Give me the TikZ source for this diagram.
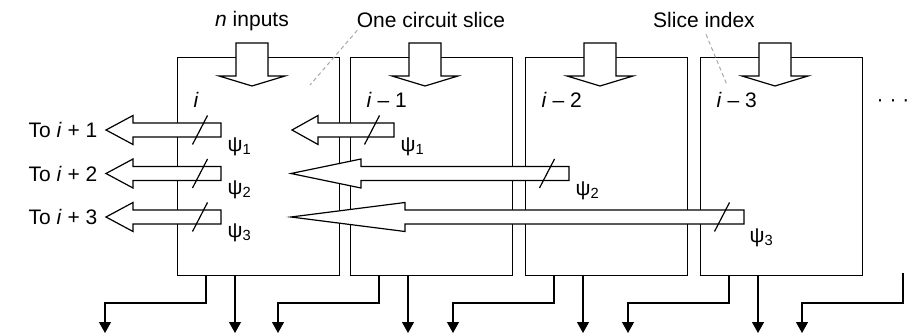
\documentclass[tikz,border=0pt]{standalone}
\usepackage{fontspec}
\setmainfont{Liberation Sans}
\usepackage{tikz}
\usetikzlibrary{arrows.meta,calc,positioning}
\definecolor{ink}{HTML}{000000}
\definecolor{muted}{HTML}{A8A8A8}

\begin{document}
\begin{tikzpicture}[x=0.5pt,y=-0.5pt,line width=0.6pt,
  slice/.style={draw=ink,minimum width=81pt,minimum height=109pt,inner sep=0pt,anchor=north west},
  bigarrow/.style={draw=ink,fill=white,line join=miter},
  outarrow/.style={draw=ink,-{Triangle[width=6pt,length=5.5pt]}},
  lbl/.style={font=\fontsize{10.5}{12}\selectfont,inner sep=0pt},
  lead/.style={muted,dash pattern=on 2pt off 1.5pt,line width=0.5pt}]
  \useasboundingbox (0,0) rectangle (914,336);
  % the four slices i, i-1, i-2, i-3
  \foreach \k/\xl/\idxtext in {0/177/{\textit{i}},1/350/{\textit{i} – 1},2/525/{\textit{i} – 2},3/700/{\textit{i} – 3}} {
    \node[slice] (s\k) at (\xl,57) {};
    \node[lbl,anchor=west] (idx\k) at (\xl+16,100) {\idxtext};
    \draw[bigarrow] (\xl+59,43) -- (\xl+91,43) -- (\xl+91,76) -- (\xl+108,76) -- (\xl+75,86) -- (\xl+42,76) -- (\xl+59,76) -- cycle;
    \coordinate (o\k a) at (\xl-72,333);
    \coordinate (o\k b) at (\xl+58,333);
    \draw[outarrow] ($(s\k.south west)+(29,0)$) |- ($(o\k a)+(0,-30)$) -- (o\k a);
    \draw[outarrow] (s\k.south west -| o\k b) -- (o\k b);
  }
  % next slice, off to the right
  \coordinate (o4a) at (802,333);
  \draw[outarrow] (903,273) |- ($(o4a)+(0,-30)$) -- (o4a);
  \node[lbl,anchor=base] (more) at (893,107) {·\ ·\ ·};

  % carries psi_1..psi_3
  \foreach \y/\r/\b/\t in {130/221/133/106,173.5/221/133/106,217/221/133/106,130/394/318/292,173.5/569/361/291,217/744/405/291}
    \draw[bigarrow] (\r,\y-7) -- (\b,\y-7) -- (\b,\y-14.5) -- (\t,\y) -- (\b,\y+14.5) -- (\b,\y+7) -- (\r,\y+7) -- cycle;
  \foreach \x/\y in {200/130,200/173.5,200/217,372/130,547/173.5,722/217}
    \draw[ink] (\x-7.5,\y+14.5) -- (\x+7.5,\y-14.5);
  \node[lbl,anchor=west] (psi01) at (227,147) {ψ\textsubscript{1}};
  \node[lbl,anchor=west] (psi02) at (227,190) {ψ\textsubscript{2}};
  \node[lbl,anchor=west] (psi03) at (227,233) {ψ\textsubscript{3}};
  \node[lbl,anchor=west] (psi11) at (400,147) {ψ\textsubscript{1}};
  \node[lbl,anchor=west] (psi22) at (575,191) {ψ\textsubscript{2}};
  \node[lbl,anchor=west] (psi33) at (749,238) {ψ\textsubscript{3}};
  \node[lbl,anchor=east] (to1) at (98,130) {To \textit{i} + 1};
  \node[lbl,anchor=east] (to2) at (98,173.5) {To \textit{i} + 2};
  \node[lbl,anchor=east] (to3) at (98,217) {To \textit{i} + 3};

  % captions on top
  \node[lbl] (ninputs) at (252,21) {\textit{n} inputs};
  \node[lbl] (oneslice) at (431,20) {One circuit slice};
  \node[lbl] (sliceidx) at (704,20) {Slice index};
  \coordinate (p1) at (310,85);
  \coordinate (p2) at (727,85);
  \draw[lead] ($(oneslice.south west)+(1,2)$) -- (p1);
  \draw[lead] ($(sliceidx.south)+(2,6)$) -- (p2);
\end{tikzpicture}
\end{document}
